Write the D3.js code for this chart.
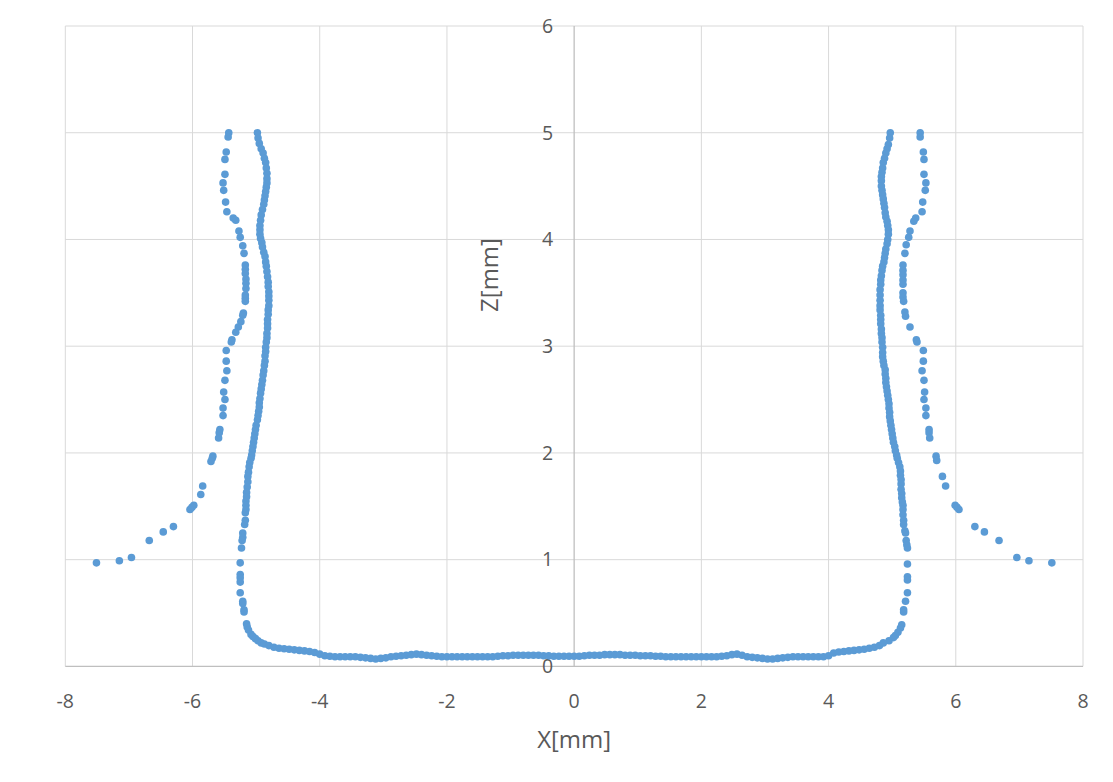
<!DOCTYPE html>
<html><head><meta charset="utf-8">
<script src="https://cdn.jsdelivr.net/npm/d3@7"></script>
<style>body{margin:0;background:#fff}svg{display:block}</style>
</head><body>
<svg id="chart" width="1113" height="782"></svg>
<script>
const xTicks = [-8,-6,-4,-2,0,2,4,6,8];
const zTicks = [0,1,2,3,4,5,6];
const xTitle = "X[mm]";
const zTitle = "Z[mm]";

const outerLeftX = [-5.43,-5.44,-5.47,-5.49,-5.49,-5.52,-5.51,-5.48,-5.46,-5.36,-5.32,-5.27,-5.25,-5.21,-5.19,-5.17,-5.17,-5.17,-5.16,-5.16,-5.16,-5.17,-5.17,-5.17,-5.20,-5.21,-5.24,-5.28,-5.32,-5.38,-5.39,-5.47,-5.47,-5.46,-5.49,-5.51,-5.49,-5.52,-5.52,-5.57,-5.58,-5.59,-5.68,-5.69,-5.71,-5.84,-5.87,-5.98,-6.01,-6.04,-6.30,-6.46,-6.68,-6.96,-7.15,-7.51];
const outerLeftZ = [5.00,4.96,4.82,4.75,4.61,4.53,4.46,4.35,4.26,4.20,4.18,4.08,4.02,3.94,3.87,3.76,3.72,3.68,3.63,3.59,3.54,3.48,3.45,3.42,3.31,3.29,3.23,3.18,3.13,3.06,3.04,2.96,2.86,2.77,2.68,2.57,2.50,2.42,2.35,2.22,2.19,2.14,1.97,1.95,1.92,1.69,1.61,1.51,1.49,1.47,1.31,1.26,1.18,1.02,0.99,0.97];

const innerLeftZ = [5.00,4.95,4.90,4.85,4.81,4.76,4.72,4.67,4.62,4.57,4.53,4.49,4.45,4.41,4.37,4.33,4.28,4.23,4.18,4.13,4.09,4.05,4.01,3.97,3.93,3.88,3.84,3.79,3.75,3.70,3.65,3.60,3.56,3.51,3.47,3.43,3.38,3.34,3.30,3.25,3.21,3.17,3.12,3.08,3.04,2.99,2.95,2.91,2.86,2.82,2.77,2.73,2.68,2.64,2.60,2.56,2.51,2.47,2.43,2.39,2.35,2.31,2.26,2.22,2.18,2.14,2.10,2.06,2.02,1.98,1.95,1.91,1.87,1.82,1.78,1.73,1.68,1.63,1.59,1.55,1.51,1.47,1.44,1.37,1.33,1.25,1.21,1.18,1.11,0.97,0.86,0.83,0.79,0.69,0.61,0.59,0.53,0.51,0.40,0.37,0.34,0.30,0.28,0.26,0.24,0.22,0.21];
const innerLeftX = [-4.98,-4.97,-4.95,-4.92,-4.89,-4.87,-4.85,-4.84,-4.83,-4.83,-4.83,-4.84,-4.85,-4.86,-4.87,-4.88,-4.90,-4.92,-4.93,-4.94,-4.94,-4.94,-4.93,-4.91,-4.90,-4.88,-4.86,-4.85,-4.84,-4.83,-4.82,-4.81,-4.81,-4.80,-4.80,-4.80,-4.80,-4.81,-4.81,-4.82,-4.82,-4.82,-4.83,-4.83,-4.84,-4.85,-4.85,-4.86,-4.86,-4.87,-4.88,-4.89,-4.90,-4.91,-4.92,-4.93,-4.94,-4.95,-4.95,-4.96,-4.97,-4.98,-5.00,-5.01,-5.02,-5.03,-5.04,-5.05,-5.06,-5.07,-5.08,-5.10,-5.11,-5.12,-5.13,-5.13,-5.14,-5.15,-5.15,-5.16,-5.16,-5.16,-5.17,-5.17,-5.18,-5.21,-5.21,-5.22,-5.23,-5.25,-5.25,-5.25,-5.25,-5.25,-5.21,-5.21,-5.19,-5.19,-5.15,-5.14,-5.12,-5.08,-5.05,-5.01,-4.97,-4.92,-4.87];

const bottomX = [-4.80,-4.72,-4.64,-4.56,-4.48,-4.40,-4.32,-4.24,-4.16,-4.08,-4.00,-3.92,-3.84,-3.76,-3.68,-3.60,-3.52,-3.44,-3.36,-3.28,-3.20,-3.12,-3.04,-2.96,-2.88,-2.80,-2.72,-2.64,-2.56,-2.48,-2.40,-2.32,-2.24,-2.16,-2.08,-2.00,-1.92,-1.84,-1.76,-1.68,-1.60,-1.52,-1.44,-1.36,-1.28,-1.20,-1.12,-1.04,-0.96,-0.88,-0.80,-0.72,-0.64,-0.56,-0.48,-0.40,-0.32,-0.24,-0.16,-0.08,0.00,0.08,0.16,0.24,0.32,0.40,0.48,0.56,0.64,0.72,0.80,0.88,0.96,1.04,1.12,1.20,1.28,1.36,1.44,1.52,1.60,1.68,1.76,1.84,1.92,2.00,2.08,2.16,2.24,2.32,2.40,2.48,2.56,2.64,2.72,2.80,2.88,2.96,3.04,3.12,3.20,3.28,3.36,3.44,3.52,3.60,3.68,3.76,3.84,3.92,4.00,4.08,4.16,4.24,4.32,4.40,4.48,4.56,4.64,4.72,4.80];
const bottomZ = [0.195,0.18,0.17,0.165,0.16,0.155,0.15,0.145,0.14,0.13,0.115,0.10,0.095,0.09,0.09,0.09,0.09,0.09,0.085,0.08,0.075,0.07,0.075,0.08,0.09,0.095,0.10,0.105,0.11,0.115,0.11,0.105,0.10,0.095,0.09,0.09,0.09,0.09,0.09,0.09,0.09,0.09,0.09,0.09,0.09,0.095,0.10,0.10,0.105,0.105,0.105,0.105,0.105,0.105,0.10,0.10,0.095,0.095,0.095,0.095,0.095,0.095,0.10,0.105,0.105,0.105,0.11,0.11,0.11,0.11,0.105,0.105,0.105,0.10,0.10,0.10,0.095,0.095,0.09,0.09,0.09,0.09,0.09,0.09,0.09,0.09,0.09,0.09,0.09,0.095,0.10,0.11,0.115,0.105,0.09,0.085,0.08,0.075,0.07,0.07,0.075,0.08,0.085,0.09,0.09,0.09,0.09,0.09,0.09,0.09,0.10,0.125,0.135,0.14,0.145,0.15,0.155,0.16,0.17,0.18,0.195];

const innerRightZ = [5.00,4.95,4.89,4.85,4.81,4.76,4.72,4.67,4.63,4.59,4.55,4.50,4.46,4.42,4.38,4.34,4.30,4.25,4.21,4.17,4.13,4.09,4.05,4.00,3.96,3.91,3.87,3.83,3.79,3.75,3.71,3.66,3.62,3.58,3.53,3.48,3.43,3.38,3.34,3.29,3.25,3.21,3.16,3.12,3.08,3.04,2.99,2.94,2.90,2.86,2.82,2.78,2.74,2.70,2.66,2.62,2.58,2.54,2.50,2.46,2.42,2.38,2.34,2.30,2.26,2.22,2.18,2.14,2.10,2.06,2.02,1.98,1.95,1.91,1.87,1.83,1.79,1.75,1.71,1.66,1.62,1.58,1.54,1.51,1.47,1.42,1.37,1.33,1.27,1.25,1.18,1.14,1.11,0.96,0.84,0.81,0.69,0.61,0.53,0.51,0.39,0.36,0.32,0.29,0.27,0.24,0.22];
const innerRightX = [4.97,4.96,4.94,4.92,4.90,4.88,4.86,4.85,4.84,4.83,4.83,4.83,4.84,4.85,4.86,4.87,4.88,4.89,4.90,4.92,4.93,4.94,4.94,4.93,4.92,4.90,4.89,4.88,4.87,4.85,4.84,4.83,4.82,4.82,4.81,4.81,4.81,4.81,4.81,4.82,4.82,4.82,4.83,4.83,4.84,4.84,4.85,4.85,4.85,4.86,4.87,4.89,4.89,4.90,4.90,4.91,4.92,4.93,4.94,4.95,4.95,4.96,4.96,4.97,4.98,4.99,5.00,5.01,5.02,5.04,5.05,5.07,5.08,5.10,5.12,5.13,5.13,5.14,5.14,5.14,5.15,5.15,5.16,5.17,5.17,5.17,5.18,5.18,5.20,5.21,5.22,5.23,5.24,5.24,5.24,5.24,5.24,5.21,5.18,5.18,5.15,5.13,5.09,5.05,5.02,4.95,4.86];

const outerRightX = [5.44,5.44,5.49,5.50,5.50,5.53,5.52,5.48,5.47,5.37,5.34,5.28,5.26,5.22,5.20,5.17,5.17,5.17,5.17,5.17,5.17,5.17,5.18,5.20,5.21,5.28,5.38,5.39,5.49,5.49,5.47,5.50,5.51,5.50,5.53,5.53,5.58,5.58,5.59,5.69,5.70,5.79,5.84,5.99,6.02,6.05,6.30,6.45,6.68,6.96,7.15,7.51];
const outerRightZ = [5.00,4.96,4.82,4.75,4.61,4.53,4.46,4.35,4.26,4.20,4.17,4.08,4.02,3.95,3.87,3.76,3.71,3.67,3.62,3.58,3.50,3.46,3.42,3.32,3.28,3.18,3.06,3.04,2.96,2.86,2.77,2.68,2.57,2.50,2.42,2.35,2.22,2.19,2.14,1.97,1.93,1.78,1.69,1.51,1.49,1.47,1.31,1.26,1.18,1.02,0.99,0.97];

const seriesList = [
  [outerLeftX, outerLeftZ], [innerLeftX, innerLeftZ], [bottomX, bottomZ],
  [innerRightX, innerRightZ], [outerRightX, outerRightZ]
];
const points = [];
seriesList.forEach(([xs, zs]) => xs.forEach((xv, i) => points.push({x: xv, z: zs[i]})));

const svg = d3.select("#chart");
const plotLeft = 65.3, plotRight = 1083, plotTop = 26, plotBottom = 666.4;
const x = d3.scaleLinear().domain([-8, 8]).range([plotLeft, plotRight]);
const y = d3.scaleLinear().domain([0, 6]).range([plotBottom, plotTop]);
const font = "'Open Sans', sans-serif";
const textColor = "#595959";

// gridlines
svg.append("g").selectAll("line").data(xTicks.filter(d => d !== 0)).join("line")
  .attr("x1", d => x(d)).attr("x2", d => x(d)).attr("y1", plotTop).attr("y2", plotBottom)
  .attr("stroke", "#d9d9d9").attr("stroke-width", 1);
svg.append("g").selectAll("line").data(zTicks.filter(d => d !== 0)).join("line")
  .attr("x1", plotLeft).attr("x2", plotRight).attr("y1", d => y(d)).attr("y2", d => y(d))
  .attr("stroke", "#d9d9d9").attr("stroke-width", 1);

// axis lines
svg.append("line").attr("x1", plotLeft).attr("x2", plotRight).attr("y1", y(0)).attr("y2", y(0))
  .attr("stroke", "#bfbfbf").attr("stroke-width", 1.3);
svg.append("line").attr("x1", x(0)).attr("x2", x(0)).attr("y1", plotTop).attr("y2", plotBottom)
  .attr("stroke", "#bfbfbf").attr("stroke-width", 1.3);

// tick labels
svg.append("g").selectAll("text").data(xTicks).join("text")
  .attr("x", d => x(d)).attr("y", 701).attr("dy", "0.35em")
  .attr("text-anchor", "middle").attr("font-family", font).attr("font-size", 19.5)
  .attr("fill", textColor).text(d => d);
svg.append("g").selectAll("text").data(zTicks).join("text")
  .attr("x", x(0) - 21).attr("y", d => y(d)).attr("dy", "0.35em")
  .attr("text-anchor", "end").attr("font-family", font).attr("font-size", 19.5)
  .attr("fill", textColor).text(d => d);

// titles
svg.append("text").attr("x", x(0)).attr("y", 740).attr("dy", "0.35em")
  .attr("text-anchor", "middle").attr("font-family", font).attr("font-size", 24)
  .attr("fill", textColor).text(xTitle);
svg.append("text").attr("transform", "translate(490,275) rotate(-90)").attr("dy", "0.35em")
  .attr("text-anchor", "middle").attr("font-family", font).attr("font-size", 24)
  .attr("fill", textColor).text(zTitle);

// points
svg.append("g").selectAll("circle").data(points).join("circle")
  .attr("cx", d => x(d.x)).attr("cy", d => y(d.z)).attr("r", 3.8)
  .attr("fill", "#5b9bd5");
</script>
</body></html>
